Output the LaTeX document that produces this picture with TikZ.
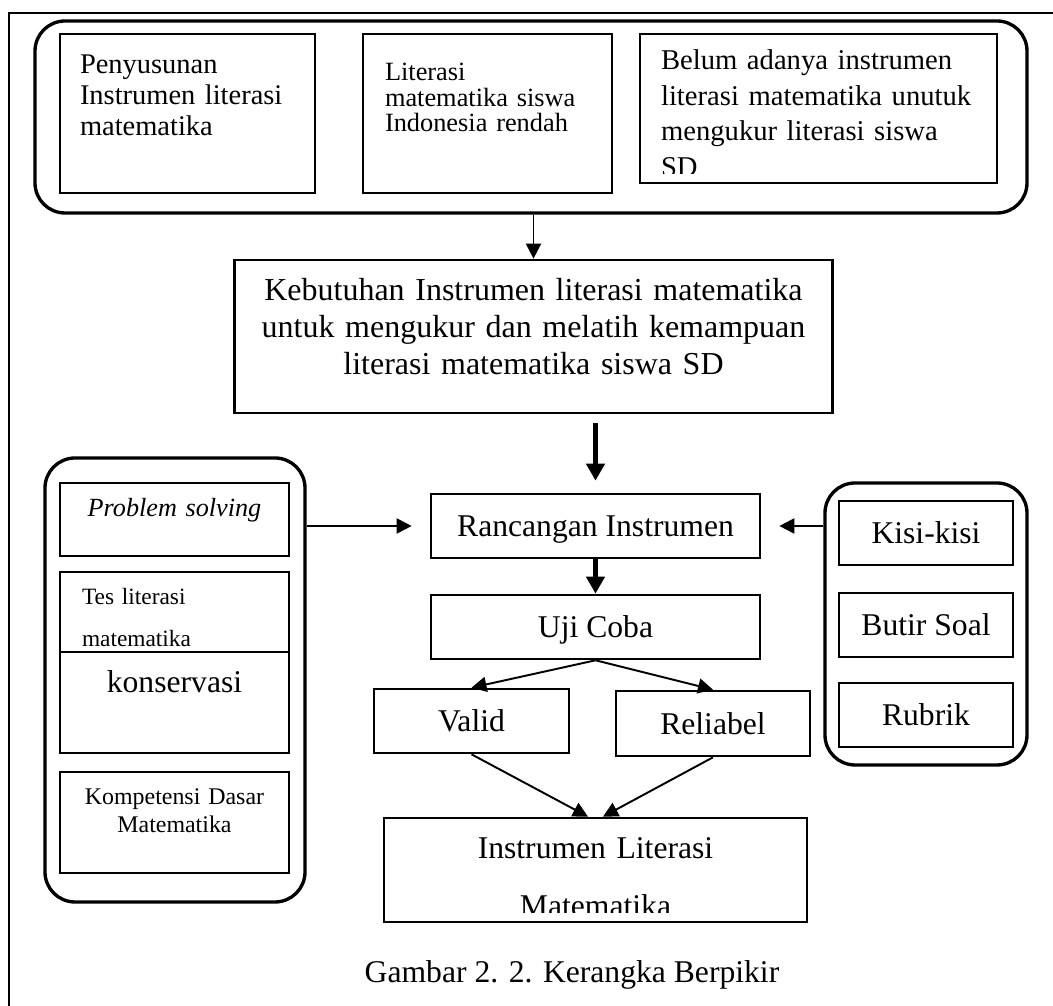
\documentclass[tikz,border=0pt]{standalone}
\usepackage{fontspec}
\setmainfont{Liberation Serif}
\usetikzlibrary{arrows.meta}
\tikzset{
  grp/.style={draw, line width=1.9pt, rounded corners=0.6cm, inner sep=0pt},
  box/.style={draw, line width=1.5pt, inner sep=0pt, font=\fontsize{18}{20.5}\selectfont, text height=12pt, text depth=0pt},
  link/.style={line width=1.1pt, -{Triangle[length=0.3cm, width=0.3cm]}},
  flow/.style={line width=2.8pt, -{Triangle[length=0.34cm, width=0.36cm]}}
}
\begin{document}
\begin{tikzpicture}
    \useasboundingbox (0,0) rectangle (21.06,20.12);
    \draw[line width=0.7pt] (21.06,19.86) -- (0.18,19.86) -- (0.18,0);

    \node[grp, minimum width=19.84cm, minimum height=3.84cm] (masalah) at (10.62,17.78) {};
    \node[box, minimum width=5.1cm, minimum height=3.18cm, inner xsep=0.4cm, text width=4.3cm, align=left, font=\fontsize{16.2}{17.6}\selectfont, text height=0.8cm, text depth=2.38cm] (penyusunan) at (3.75,17.85) {Penyusunan\\Instrumen literasi\\matematika};
    \node[box, minimum width=4.98cm, minimum height=3.18cm, inner xsep=0.44cm, text width=4.1cm, align=left, font=\fontsize{15}{14.4}\selectfont, text height=0.94cm, text depth=2.24cm] (rendah) at (9.75,17.85) {Literasi\\matematika siswa\\Indonesia rendah};
    \node[box, minimum width=7.14cm, minimum height=2.98cm] (belum) at (16.37,17.95) {};
    \begin{scope}
        \clip (belum.north west) rectangle ([yshift=0.22cm]belum.south east);
        \node[anchor=base west, inner sep=0pt, text width=6.5cm, align=left, font=\fontsize{16.3}{20.2}\selectfont] (belumteks) at ([xshift=0.44cm, yshift=-0.74cm]belum.north west) {Belum adanya instrumen\\literasi matematika unutuk\\mengukur literasi siswa\\SD};
    \end{scope}

    \node[box, minimum width=11.96cm, minimum height=3.06cm, text width=11.96cm, align=center, font=\fontsize{18.2}{20.8}\selectfont, text height=0.82cm, text depth=2.24cm] (kebutuhan) at (10.67,13.39) {Kebutuhan Instrumen literasi matematika\\untuk mengukur dan melatih kemampuan\\literasi matematika siswa SD};

    \node[grp, minimum width=5.2cm, minimum height=8.88cm] (teori) at (3.5,6.52) {};
    \node[box, minimum width=4.58cm, minimum height=1.46cm, text width=4.58cm, align=center, font=\fontsize{14.9}{17}\selectfont\itshape, text height=0.68cm, text depth=0.78cm] (problem) at (3.49,9.73) {Problem solving};
    \node[box, minimum width=4.58cm, minimum height=1.6cm, inner xsep=0.44cm, text width=3.7cm, align=left, font=\fontsize{13.3}{23.9}\selectfont, text height=0.66cm, text depth=0.94cm] (tes) at (3.49,7.88) {Tes literasi\\matematika};
    \node[box, minimum width=4.58cm, minimum height=2.02cm, text width=4.58cm, align=center, text height=0.82cm, text depth=1.2cm] (konservasi) at (3.49,6.07) {konservasi};
    \node[box, minimum width=4.58cm, minimum height=2.02cm, text width=4.58cm, align=center, font=\fontsize{13.6}{15.9}\selectfont, text height=0.66cm, text depth=1.36cm] (kd) at (3.49,3.67) {Kompetensi Dasar\\Matematika};

    \node[grp, minimum width=4.04cm, minimum height=5.64cm] (komponen) at (18.52,7.64) {};
    \node[box, minimum width=3.48cm, minimum height=1.28cm] (kisi) at (18.52,9.46) {Kisi-kisi};
    \node[box, minimum width=3.48cm, minimum height=1.28cm] (butir) at (18.52,7.62) {Butir Soal};
    \node[box, minimum width=3.48cm, minimum height=1.28cm] (rubrik) at (18.52,5.82) {Rubrik};

    \node[box, minimum width=6.58cm, minimum height=1.28cm] (rancangan) at (11.91,9.6) {Rancangan Instrumen};
    \node[box, minimum width=6.58cm, minimum height=1.28cm] (ujicoba) at (11.91,7.58) {Uji Coba};
    \node[box, minimum width=3.9cm, minimum height=1.28cm] (valid) at (9.43,5.70) {Valid};
    \node[box, minimum width=3.88cm, minimum height=1.3cm] (reliabel) at (14.26,5.65) {Reliabel};
    \node[box, minimum width=8.46cm, minimum height=2.08cm] (instrumen) at (11.91,2.72) {};
    \begin{scope}
        \clip (instrumen.north west) rectangle ([yshift=0.22cm]instrumen.south east);
        \node[anchor=base, inner sep=0pt, text width=8cm, align=center, font=\fontsize{18}{33}\selectfont] (instrumenteks) at ([yshift=-0.84cm]instrumen.north) {Instrumen Literasi\\Matematika};
    \end{scope}

    \node[anchor=base, font=\fontsize{18}{20}\selectfont] (judul) at (11.44,0.46) {Gambar 2. 2. Kerangka Berpikir};

    \draw[link] (masalah.south -| kebutuhan.north) -- (kebutuhan.north);
    \draw[flow, shorten <=0.18cm, shorten >=0.24cm] (kebutuhan.south -| rancangan.north) -- (rancangan.north);
    \draw[flow] (rancangan.south) -- (ujicoba.north);
    \draw[link, shorten >=0.36cm] (teori.east |- rancangan.west) -- (rancangan.west);
    \draw[link, shorten >=0.36cm] (komponen.west |- rancangan.east) -- (rancangan.east);
    \draw[link] (ujicoba.south) -- (valid.north);
    \draw[link] (ujicoba.south) -- (reliabel.north);
    \draw[link] (valid.south) -- ([xshift=-0.15cm]instrumen.north);
    \draw[link] (reliabel.south) -- ([xshift=0.15cm]instrumen.north);
\end{tikzpicture}
\end{document}
